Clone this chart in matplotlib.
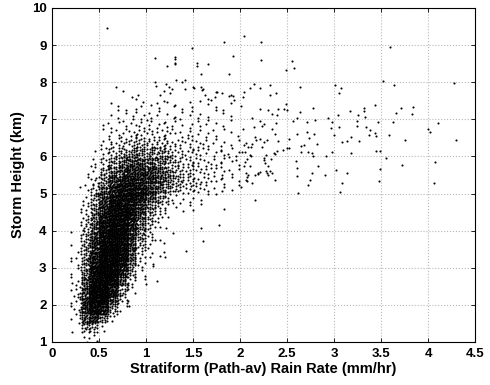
import numpy as np
import matplotlib
matplotlib.use("Agg")
import matplotlib.pyplot as plt

# dense core: estimated number of dots per cell (0.1 wide in x, 0.25 tall in y)
x_left = [0.2, 0.3, 0.4, 0.5, 0.6, 0.7, 0.8, 0.9, 1.0, 1.1, 1.2, 1.3, 1.4, 1.5, 1.6, 1.7, 1.8, 1.9]
y_low = [1.0, 1.25, 1.5, 1.75, 2.0, 2.25, 2.5, 2.75, 3.0, 3.25, 3.5, 3.75, 4.0,
         4.25, 4.5, 4.75, 5.0, 5.25, 5.5, 5.75, 6.0, 6.25, 6.5, 6.75, 7.0, 7.25]
counts = [
    [0, 3, 2, 0, 0, 0, 0, 0, 0, 0, 0, 0, 0, 0, 0, 0, 0, 0],
    [1, 12, 10, 2, 0, 0, 0, 0, 0, 0, 0, 0, 0, 0, 0, 0, 0, 0],
    [2, 25, 35, 15, 2, 0, 0, 0, 0, 0, 0, 0, 0, 0, 0, 0, 0, 0],
    [4, 35, 60, 45, 12, 2, 0, 0, 0, 0, 0, 0, 0, 0, 0, 0, 0, 0],
    [4, 35, 65, 65, 30, 6, 1, 0, 0, 0, 0, 0, 0, 0, 0, 0, 0, 0],
    [3, 30, 65, 70, 45, 12, 3, 0, 0, 0, 0, 0, 0, 0, 0, 0, 0, 0],
    [3, 22, 60, 70, 60, 25, 6, 1, 0, 0, 0, 0, 0, 0, 0, 0, 0, 0],
    [2, 18, 55, 70, 65, 38, 12, 2, 0, 0, 0, 0, 0, 0, 0, 0, 0, 0],
    [2, 15, 45, 70, 70, 50, 20, 4, 1, 0, 0, 0, 0, 0, 0, 0, 0, 0],
    [2, 12, 40, 65, 70, 55, 25, 6, 2, 1, 0, 0, 0, 0, 0, 0, 0, 0],
    [1, 12, 35, 60, 70, 60, 30, 10, 3, 0, 0, 0, 0, 0, 0, 0, 0, 0],
    [1, 10, 30, 55, 70, 60, 35, 14, 5, 1, 0, 0, 0, 0, 0, 0, 0, 0],
    [0, 8, 25, 50, 65, 60, 40, 18, 7, 2, 0, 0, 0, 0, 0, 0, 0, 0],
    [0, 6, 20, 45, 60, 60, 45, 25, 10, 4, 1, 0, 0, 0, 0, 0, 0, 0],
    [0, 4, 15, 35, 55, 60, 50, 32, 15, 7, 3, 2, 2, 1, 0, 0, 0, 0],
    [0, 3, 12, 30, 50, 55, 55, 40, 25, 12, 6, 3, 2, 1, 1, 0, 0, 0],
    [1, 2, 8, 22, 40, 50, 50, 45, 32, 22, 12, 9, 6, 4, 3, 2, 2, 2],
    [0, 1, 5, 15, 30, 40, 45, 40, 35, 25, 18, 12, 7, 5, 4, 3, 2, 2],
    [0, 1, 3, 10, 20, 30, 35, 35, 30, 22, 15, 10, 7, 5, 4, 3, 3, 2],
    [0, 0, 2, 6, 13, 20, 25, 25, 22, 18, 12, 8, 6, 4, 4, 3, 3, 3],
    [0, 0, 1, 4, 7, 12, 15, 15, 14, 12, 9, 6, 5, 4, 3, 3, 3, 3],
    [0, 0, 0, 2, 5, 7, 8, 8, 8, 7, 6, 5, 4, 3, 3, 2, 2, 2],
    [0, 0, 0, 1, 3, 4, 5, 5, 5, 4, 4, 3, 3, 2, 2, 2, 1, 2],
    [0, 0, 0, 1, 2, 3, 3, 3, 3, 3, 3, 3, 2, 2, 2, 1, 1, 1],
    [0, 0, 0, 0, 2, 2, 2, 2, 2, 2, 2, 2, 2, 2, 1, 1, 1, 1],
    [0, 0, 0, 0, 1, 2, 1, 2, 1, 2, 2, 2, 2, 1, 1, 1, 1, 1],
]

# sparse dots read one by one
top_x = [0.585, 1.10, 1.31, 1.31, 1.31, 1.22, 1.49, 1.54, 1.54, 1.66, 1.83, 1.93, 1.88, 1.59, 1.32, 1.41, 1.38,
         1.10, 1.11, 1.21, 1.24, 1.28, 1.42, 1.50, 1.59, 1.60, 1.74, 1.73, 1.88, 1.93, 0.68, 0.76, 0.85, 0.89,
         1.66, 1.19, 1.15, 1.25, 1.76, 1.81, 1.90, 0.91, 1.63, 1.69, 1.94, 1.19, 1.51, 1.61, 1.31]
top_y = [9.46, 8.64, 8.69, 8.63, 8.52, 8.45, 8.93, 8.53, 8.45, 8.50, 9.08, 8.71, 8.23, 8.22, 8.07, 8.06, 8.00,
         8.01, 7.90, 7.95, 7.86, 7.82, 7.81, 7.86, 7.86, 7.79, 7.74, 7.59, 7.62, 7.64, 7.88, 7.76, 7.61, 7.56,
         7.55, 7.76, 7.66, 7.70, 7.74, 7.72, 7.66, 7.65, 7.65, 7.52, 7.51, 7.50, 7.84, 7.83, 8.50]

low_x = [1.43, 1.61, 1.58, 1.78, 1.83, 1.19, 1.20, 1.19, 1.07, 1.29, 1.21, 1.12, 1.00, 0.82, 0.66, 0.21, 0.25]
low_y = [3.45, 3.72, 4.08, 4.15, 4.59, 3.42, 3.29, 3.68, 3.10, 3.95, 4.06, 2.65, 2.57, 1.96, 1.69, 2.58, 3.27]

far_x = [2.04, 2.22, 2.22, 2.55, 2.57, 2.49, 3.60, 3.52, 3.64, 4.28, 3.01, 3.07, 3.05, 2.64, 2.38, 2.32, 2.32,
         2.21, 2.15, 2.11, 2.04, 2.03, 2.01, 2.49, 2.50, 2.21, 2.30, 2.40, 2.47, 2.39, 2.34, 2.64, 2.78, 2.13,
         2.03, 2.15, 2.21, 2.23, 2.26, 2.34, 2.38, 2.56, 2.61, 2.71, 2.80, 2.94, 2.98, 2.97, 3.05, 3.04, 3.17,
         3.26, 3.32, 3.32, 3.33, 3.24, 3.24, 3.34, 3.38, 3.37, 3.44, 3.45, 3.47, 3.44, 3.63, 3.66, 3.71, 3.83,
         3.84, 3.59, 3.76, 4.00, 4.02, 4.11, 4.30, 4.07, 3.72, 3.55, 3.49, 3.45, 3.49, 3.18, 3.14, 3.02, 3.27,
         3.14, 3.18, 3.08, 3.00, 2.98, 2.92, 2.83, 2.90, 2.77, 2.82, 2.79, 2.73, 2.71, 2.77, 2.78, 2.72, 2.65,
         2.68, 2.65, 2.61, 2.52, 2.50, 2.52, 2.46, 2.39, 2.36, 2.37, 2.40, 2.37, 2.29, 2.26, 2.23, 2.21, 2.16,
         2.17, 2.13, 2.12, 2.08, 2.06, 2.04, 2.05, 2.02, 2.11, 2.12, 2.28, 2.26, 2.26, 2.27, 2.33, 2.30, 2.32,
         2.29, 2.34, 2.21, 2.19, 2.11, 2.07, 2.05, 2.04, 2.06, 2.08, 2.07, 2.60, 2.61, 2.61, 2.06, 2.07, 2.01,
         2.13, 2.16, 2.19, 2.28, 2.16, 2.62, 2.74, 2.72, 3.09, 3.06, 3.48, 4.06, 2.37, 2.30]
far_y = [9.24, 9.08, 8.61, 8.58, 8.38, 8.34, 8.95, 8.04, 7.92, 7.99, 7.93, 7.84, 7.70, 7.86, 7.70, 7.65, 7.92,
         7.84, 7.94, 7.84, 7.74, 7.61, 7.36, 7.41, 7.25, 7.27, 7.25, 7.29, 7.28, 7.11, 7.14, 7.20, 7.30, 7.03,
         6.74, 6.79, 6.96, 6.81, 6.88, 6.75, 6.90, 6.95, 7.04, 6.94, 6.97, 7.04, 6.92, 6.76, 6.78, 7.13, 7.22,
         7.13, 7.30, 7.22, 7.06, 6.96, 6.83, 6.78, 6.71, 6.58, 6.63, 6.56, 6.94, 7.39, 6.93, 7.18, 7.30, 7.15,
         7.33, 6.58, 6.45, 6.75, 6.66, 6.90, 6.45, 5.84, 5.76, 5.95, 6.16, 6.16, 5.66, 6.08, 5.56, 5.63, 6.41,
         6.42, 6.52, 6.38, 6.58, 6.13, 6.02, 5.75, 5.50, 5.55, 6.33, 6.61, 6.50, 6.67, 6.08, 6.02, 6.11, 6.12,
         6.30, 6.29, 6.61, 6.46, 6.23, 6.23, 6.18, 6.16, 6.08, 6.06, 6.42, 6.60, 6.43, 6.40, 6.25, 6.48, 6.53,
         6.43, 6.33, 6.25, 6.25, 6.37, 6.31, 6.11, 6.12, 6.05, 6.01, 6.04, 5.96, 5.91, 5.82, 5.93, 5.75, 5.61,
         5.55, 5.56, 5.58, 5.56, 5.75, 5.93, 5.84, 5.75, 5.56, 5.50, 5.45, 5.87, 5.68, 5.48, 5.37, 5.35, 5.18,
         5.29, 5.49, 5.54, 5.61, 4.83, 5.02, 5.36, 5.22, 5.28, 5.04, 5.34, 5.28, 5.36, 5.51]


def spread(n, k):
    # n dots spread evenly over a unit cell (R2 sequence), shifted per cell
    g = 1.32471795724474602596
    i = np.arange(1, n + 1) + 17 * k
    return (0.5 + i / g) % 1.0, (0.5 + i / g ** 2) % 1.0


xs, ys = [], []
k = 0
for r, y0 in enumerate(y_low):
    for c, x0 in enumerate(x_left):
        n = counts[r][c]
        k += 1
        if n == 0:
            continue
        u, v = spread(n, k)
        xs.extend(x0 + 0.1 * u)
        ys.extend(y0 + 0.25 * v)
xs = np.concatenate([xs, top_x, low_x, far_x])
ys = np.concatenate([ys, top_y, low_y, far_y])

plt.rcParams.update({
    'font.family': ['Liberation Sans', 'DejaVu Sans'],
    'font.weight': 'bold',
    'font.size': 9.5,
})

fig = plt.figure(figsize=(4.9, 3.85), dpi=100)
ax = fig.add_axes([52 / 490, 43 / 385, 423 / 490, 334 / 385])
ax.plot(xs, ys, 'o', color='black', ms=1.5, mec='none')

ax.set_xlim(0, 4.5)
ax.set_ylim(1, 10)
xt = [0, 0.5, 1, 1.5, 2, 2.5, 3, 3.5, 4, 4.5]
ax.set_xticks(xt)
ax.set_xticklabels(['%g' % t for t in xt])
ax.set_yticks(range(1, 11))
ax.grid(True, linestyle=':', color='#b8b8b8', linewidth=0.8)
ax.tick_params(direction='in', top=True, right=True, length=3, width=0.6, pad=4)
for s in ax.spines.values():
    s.set_linewidth(0.8)
ax.set_xlabel('Stratiform (Path-av) Rain Rate (mm/hr)', fontweight='bold', fontsize=10.5, labelpad=2)
ax.set_ylabel('Storm Height (km)', fontweight='bold', fontsize=10.5, labelpad=5)

fig.savefig('out.png', dpi=100)
